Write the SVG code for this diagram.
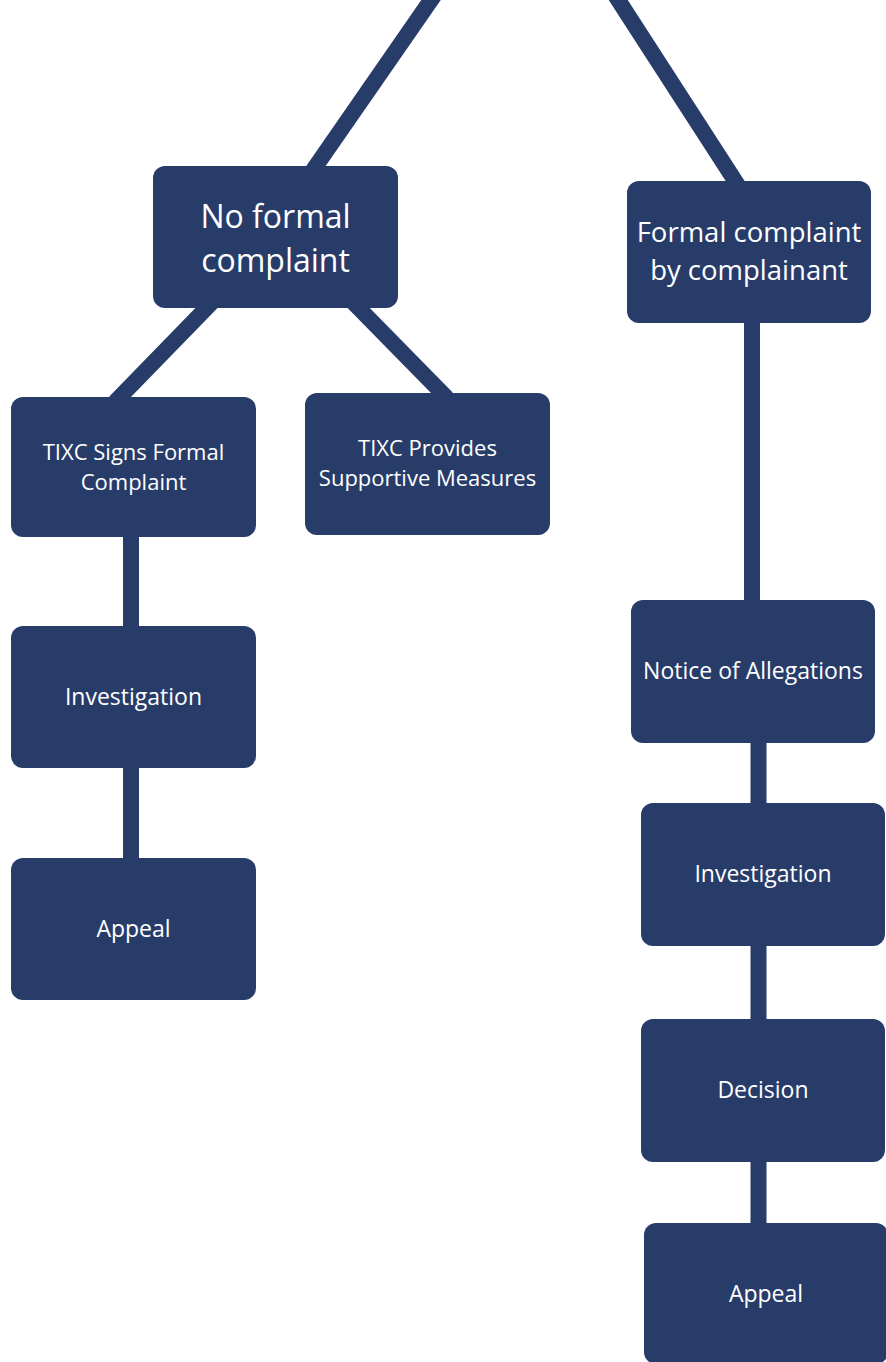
<svg xmlns="http://www.w3.org/2000/svg" width="886" height="1362" viewBox="0 0 886 1362">
<style>
.box{fill:#283C6A}
.c{stroke:#283C6A;stroke-width:16;fill:none;stroke-linecap:butt}
.t{fill:#FFFFFF;font-family:"Open Sans","Noto Sans",sans-serif;text-anchor:middle}
.s23{font-size:23px}
.s22{font-size:22px}
.s32{font-size:32px}
.s27{font-size:27.5px}
</style>
<rect width="886" height="1362" fill="#FFFFFF"/>
<g id="connectors">
<line class="c" x1="434.5" y1="-5" x2="309" y2="176"/>
<line class="c" x1="615" y1="-5" x2="741" y2="190"/>
<line class="c" x1="224" y1="290" x2="115" y2="402"/>
<line class="c" x1="341" y1="290" x2="447" y2="398"/>
<line class="c" x1="131" y1="530" x2="131" y2="632"/>
<line class="c" x1="131" y1="760" x2="131" y2="865"/>
<line class="c" x1="752" y1="315" x2="752" y2="608"/>
<line class="c" x1="758.5" y1="735" x2="758.5" y2="810"/>
<line class="c" x1="758.5" y1="938" x2="758.5" y2="1026"/>
<line class="c" x1="758.5" y1="1154" x2="758.5" y2="1230"/>
</g>
<g id="no-formal">
<rect class="box" x="153" y="166" width="245" height="142" rx="12"/>
<text class="t s32" x="275.5" y="228">No formal<tspan x="275.5" dy="44">complaint</tspan></text>
</g>
<g id="formal">
<rect class="box" x="627" y="181" width="244" height="142" rx="12"/>
<text class="t s27" x="749" y="242">Formal complaint<tspan x="749" dy="37.5">by complainant</tspan></text>
</g>
<g id="tixc-signs">
<rect class="box" x="11" y="397" width="245" height="140" rx="12"/>
<text class="t s22" x="133.5" y="460">TIXC Signs Formal<tspan x="133.5" dy="30">Complaint</tspan></text>
</g>
<g id="tixc-provides">
<rect class="box" x="305" y="393" width="245" height="142" rx="12"/>
<text class="t s22" x="427.5" y="456">TIXC Provides<tspan x="427.5" dy="30">Supportive Measures</tspan></text>
</g>
<g id="investigation-left">
<rect class="box" x="11" y="626" width="245" height="142" rx="12"/>
<text class="t s23" x="133.5" y="705">Investigation</text>
</g>
<g id="appeal-left">
<rect class="box" x="11" y="858" width="245" height="142" rx="12"/>
<text class="t s23" x="133.5" y="937">Appeal</text>
</g>
<g id="notice">
<rect class="box" x="631" y="600" width="244" height="143" rx="12"/>
<text class="t s23" x="753" y="679">Notice of Allegations</text>
</g>
<g id="investigation-right">
<rect class="box" x="641" y="803" width="244" height="143" rx="12"/>
<text class="t s23" x="763" y="882">Investigation</text>
</g>
<g id="decision">
<rect class="box" x="641" y="1019" width="244" height="143" rx="12"/>
<text class="t s23" x="763" y="1098">Decision</text>
</g>
<g id="appeal-right">
<rect class="box" x="644" y="1223" width="244" height="141" rx="12"/>
<text class="t s23" x="766" y="1302">Appeal</text>
</g>
</svg>
